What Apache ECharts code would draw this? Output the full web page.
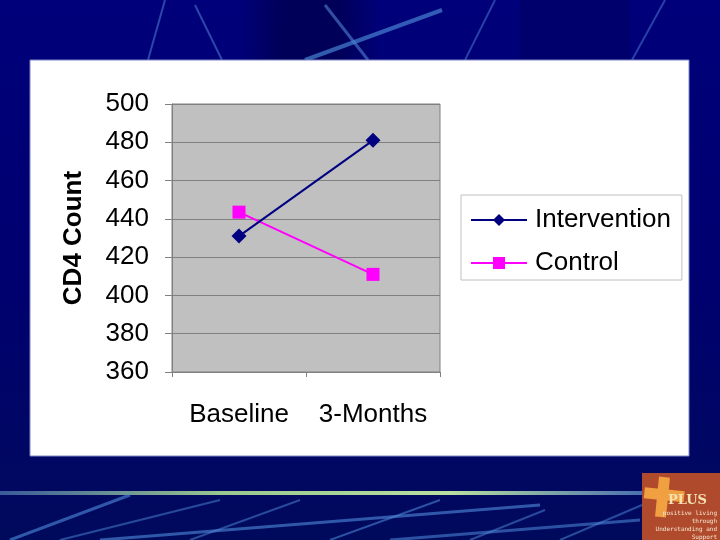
<!DOCTYPE html>
<html>
<head>
<meta charset="utf-8">
<script src="https://cdn.jsdelivr.net/npm/echarts@6/dist/echarts.min.js"></script>
<style>
  html, body { margin: 0; padding: 0; }
  #main { width: 720px; height: 540px; }
</style>
</head>
<body>
<div id="main"></div>
<script>
// chart data
var categories = ['Baseline', '3-Months'];
var interventionValues = [431, 481];
var controlValues = [443.5, 411];
var seriesNames = ['Intervention', 'Control'];
var yTitle = 'CD4 Count';

var chart = echarts.init(document.getElementById('main'));

// slide decoration (background, white panel, streaks, logo)
var deco = [
  { type: 'rect', shape: { x: 0, y: 0, width: 720, height: 540 },
    style: { fill: new echarts.graphic.LinearGradient(0, 0, 0, 1, [
      { offset: 0, color: '#00007a' }, { offset: 0.5, color: '#000070' }, { offset: 1, color: '#000a5c' }]) }, z: 0 },
  { type: 'rect', shape: { x: 240, y: 0, width: 140, height: 60 },
    style: { fill: new echarts.graphic.LinearGradient(0, 0, 1, 0, [
      { offset: 0, color: 'rgba(0,0,40,0)' }, { offset: 0.3, color: 'rgba(0,0,40,0.4)' },
      { offset: 0.7, color: 'rgba(0,0,40,0.4)' }, { offset: 1, color: 'rgba(0,0,40,0)' }]) }, z: 0 },
  { type: 'rect', shape: { x: 520, y: 0, width: 110, height: 60 }, style: { fill: 'rgba(0,0,40,0.15)' }, z: 0 },
  { type: 'line', shape: { x1: 165, y1: 0, x2: 148, y2: 60 }, style: { stroke: 'rgba(80,130,210,0.55)', lineWidth: 2 }, z: 1 },
  { type: 'line', shape: { x1: 195, y1: 5, x2: 222, y2: 60 }, style: { stroke: 'rgba(80,130,210,0.55)', lineWidth: 2 }, z: 1 },
  { type: 'line', shape: { x1: 325, y1: 5, x2: 368, y2: 60 }, style: { stroke: 'rgba(80,130,210,0.6)', lineWidth: 3 }, z: 1 },
  { type: 'line', shape: { x1: 305, y1: 60, x2: 442, y2: 10 }, style: { stroke: 'rgba(70,130,210,0.7)', lineWidth: 4 }, z: 1 },
  { type: 'line', shape: { x1: 495, y1: 0, x2: 465, y2: 60 }, style: { stroke: 'rgba(80,130,210,0.5)', lineWidth: 2 }, z: 1 },
  { type: 'line', shape: { x1: 665, y1: 0, x2: 632, y2: 60 }, style: { stroke: 'rgba(80,130,210,0.5)', lineWidth: 2 }, z: 1 },
  { type: 'rect', shape: { x: 30, y: 60, width: 659, height: 396 },
    style: { fill: '#ffffff', stroke: '#7f86c8', lineWidth: 1 }, z: 2 },
  { type: 'rect', shape: { x: 0, y: 491, width: 642, height: 4 },
    style: { fill: new echarts.graphic.LinearGradient(0, 0, 1, 0, [
      { offset: 0, color: '#3a5a9a' }, { offset: 0.35, color: '#9ac890' }, { offset: 0.7, color: '#b8e0a0' }, { offset: 1, color: '#4a70b0' }]) }, z: 1 },
  { type: 'line', shape: { x1: 10, y1: 540, x2: 130, y2: 495 }, style: { stroke: 'rgba(80,140,220,0.6)', lineWidth: 3 }, z: 1 },
  { type: 'line', shape: { x1: 60, y1: 540, x2: 220, y2: 500 }, style: { stroke: 'rgba(80,140,220,0.5)', lineWidth: 2 }, z: 1 },
  { type: 'line', shape: { x1: 100, y1: 540, x2: 540, y2: 505 }, style: { stroke: 'rgba(80,140,220,0.6)', lineWidth: 3 }, z: 1 },
  { type: 'line', shape: { x1: 190, y1: 540, x2: 300, y2: 500 }, style: { stroke: 'rgba(80,140,220,0.5)', lineWidth: 2 }, z: 1 },
  { type: 'line', shape: { x1: 330, y1: 540, x2: 440, y2: 500 }, style: { stroke: 'rgba(80,140,220,0.55)', lineWidth: 2 }, z: 1 },
  { type: 'line', shape: { x1: 390, y1: 540, x2: 640, y2: 520 }, style: { stroke: 'rgba(80,140,220,0.55)', lineWidth: 3 }, z: 1 },
  { type: 'line', shape: { x1: 470, y1: 540, x2: 545, y2: 510 }, style: { stroke: 'rgba(80,140,220,0.5)', lineWidth: 2 }, z: 1 },
  { type: 'line', shape: { x1: 560, y1: 540, x2: 642, y2: 505 }, style: { stroke: 'rgba(80,140,220,0.5)', lineWidth: 2 }, z: 1 },
  { type: 'rect', shape: { x: 642, y: 473, width: 78, height: 67 }, style: { fill: '#b04a2c' }, z: 3 },
  { type: 'rect', shape: { x: 657, y: 477, width: 11, height: 40 }, rotation: -0.1, originX: 662, originY: 497, style: { fill: '#f0a040' }, z: 4 },
  { type: 'rect', shape: { x: 644, y: 489, width: 40, height: 11 }, rotation: -0.1, originX: 662, originY: 497, style: { fill: '#f0a040' }, z: 4 },
  { type: 'text', x: 668, y: 494, style: { text: 'PLUS', fill: '#f5e0b0', font: 'bold 13px "DejaVu Serif"' }, z: 5 },
  { type: 'text', x: 717, y: 509, style: { text: 'positive living\nthrough\nUnderstanding and\nSupport', fill: '#f5e6d0', font: '6px "DejaVu Sans Mono"', align: 'right', lineHeight: 8 }, z: 5 }
];

var option = {
  animation: false,
  graphic: deco,
  grid: { left: 172, top: 104, width: 268, height: 268, show: true,
    backgroundColor: '#c0c0c0', borderColor: '#808080', borderWidth: 1, z: 3 },
  legend: {
    left: 461, top: 195, orient: 'vertical',
    data: seriesNames,
    itemWidth: 56, itemHeight: 15, itemGap: 17,
    padding: [12, 11, 4, 9],
    borderColor: '#c0c0c0', borderWidth: 1,
    textStyle: { fontFamily: 'Liberation Sans', fontSize: 26, color: '#000', padding: [0, 0, 0, 3] },
    z: 5
  },
  xAxis: {
    type: 'category', data: categories, boundaryGap: true,
    axisLine: { lineStyle: { color: '#808080' } },
    axisTick: { show: true, length: 5, lineStyle: { color: '#808080' } },
    axisLabel: { fontFamily: 'Liberation Sans', fontSize: 26, color: '#000', margin: 30, interval: 0, hideOverlap: false },
    z: 4
  },
  yAxis: {
    type: 'value', min: 360, max: 500, interval: 20,
    name: yTitle, nameLocation: 'middle', nameGap: 85, nameRotate: 90,
    nameTextStyle: { fontFamily: 'Liberation Sans', fontWeight: 'bold', fontSize: 26, color: '#000' },
    axisLine: { show: true, lineStyle: { color: '#808080' } },
    axisTick: { show: true, length: 7, lineStyle: { color: '#808080' } },
    splitLine: { lineStyle: { color: '#808080', width: 1 } },
    axisLabel: { fontFamily: 'Liberation Sans', fontSize: 26, color: '#000', margin: 23 },
    z: 4
  },
  series: [
    { name: seriesNames[0], type: 'line', data: interventionValues,
      symbol: 'diamond', symbolSize: 15,
      lineStyle: { color: '#000080', width: 2 },
      itemStyle: { color: '#000080' }, z: 6 },
    { name: seriesNames[1], type: 'line', data: controlValues,
      symbol: 'rect', symbolSize: 13,
      lineStyle: { color: '#ff00ff', width: 2 },
      itemStyle: { color: '#ff00ff' }, z: 5 }
  ]
};

chart.setOption(option);
</script>
</body>
</html>
